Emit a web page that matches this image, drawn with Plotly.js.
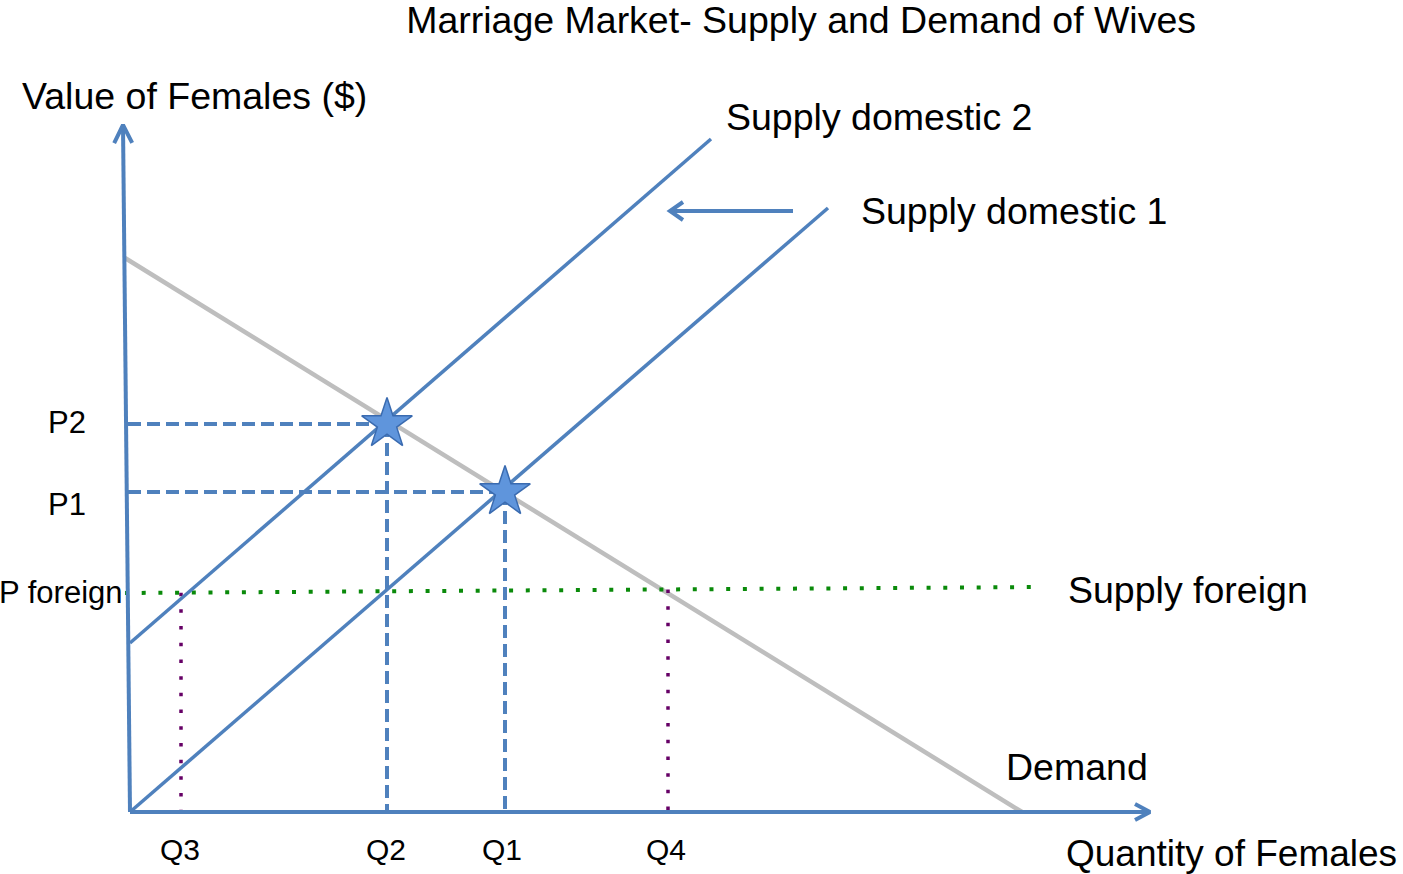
<!DOCTYPE html>
<html>
<head>
<meta charset="utf-8">
<script src="https://cdn.plot.ly/plotly-3.0.1.min.js"></script>
<style>html,body{margin:0;padding:0;background:#fff;}#chart{width:1403px;height:874px;}</style>
</head>
<body>
<div id="chart"></div>
<script>
// ---- data (quantity / value units, origin at the axes' corner) ----
const titleText = 'Marriage Market- Supply and Demand of Wives';
const yAxisTitle = 'Value of Females ($)';
const xAxisTitle = 'Quantity of Females';

const demandQ = [-5, 892];
const demandV = [554, 0];
const supply1Q = [0, 698];
const supply1V = [0, 604];
const supply2Q = [0, 581];
const supply2V = [169, 673];
const foreignQ = [-5, 913];
const foreignV = [219, 225];

const equilibriumQ = [257, 375];   // Q2, Q1
const equilibriumV = [388, 320];   // P2, P1

const foreignQtyQ = [51, 538];     // Q3, Q4

const qLabels = ['Q3', 'Q2', 'Q1', 'Q4'];
const qLabelPos = [50, 256, 372, 536];
const pLabels = ['P2', 'P1', 'P foreign'];
const pLabelPos = [390, 308, 220];

const yAxisEnd = [-7, 687];
const xAxisEnd = [1020, 0];
const shiftArrowQ = [663, 540];
const shiftArrowV = [601, 601];

const seriesLabels = ['Supply domestic 2', 'Supply domestic 1', 'Supply foreign', 'Demand'];
const seriesLabelQ = [594, 729, 936, 874];
const seriesLabelV = [695, 601, 222, 45];

// ---- styles ----
const BLUE = '#4F81BD';
const GRAY = '#BEBEBE';
const GREEN = '#0A8A0A';
const PURPLE = '#660066';
const FONT = 'Liberation Sans, Arial, sans-serif';

function chevron(tip, dir, len, half) {
  const n = Math.hypot(dir[0], dir[1]);
  const dx = dir[0] / n, dy = dir[1] / n;
  const px = -dy, py = dx;
  return {
    x: [tip[0] - dx * len + px * half, tip[0], tip[0] - dx * len - px * half],
    y: [tip[1] - dy * len + py * half, tip[1], tip[1] - dy * len - py * half]
  };
}
function line(x, y, color, width, dash) {
  return {type: 'scatter', mode: 'lines', x: x, y: y, hoverinfo: 'skip',
    line: {color: color, width: width, dash: dash || 'solid'}, showlegend: false};
}

const traces = [];
// demand
traces.push(line(demandQ, demandV, GRAY, 4.5));
// foreign supply (dotted)
traces.push(line(foreignQ, foreignV, GREEN, 4, '4px,12.7px'));
// purple dotted at Q3, Q4
foreignQtyQ.forEach((q, i) => {
  const v = foreignV[0] + (foreignV[1] - foreignV[0]) * (q - foreignQ[0]) / (foreignQ[1] - foreignQ[0]);
  traces.push(line([q, q], [v, 0], PURPLE, 3.5, '3.5px,13.2px'));
});
// dashed guides
equilibriumQ.forEach((q, i) => {
  const v = equilibriumV[i];
  traces.push(line([-2, q], [v, v], BLUE, 4, '13px,6px'));
  traces.push(line([q, q], [v, 0], BLUE, 4, '13px,6px'));
});
// supply curves
traces.push(line(supply1Q, supply1V, BLUE, 3.5));
traces.push(line(supply2Q, supply2V, BLUE, 3.5));
// axes
traces.push(line([0, yAxisEnd[0]], [0, yAxisEnd[1]], BLUE, 4));
traces.push(line([0, xAxisEnd[0]], [0, xAxisEnd[1]], BLUE, 4));
const cy = chevron(yAxisEnd, [yAxisEnd[0], yAxisEnd[1]], 18, 9);
traces.push(line(cy.x, cy.y, BLUE, 4));
const cx = chevron(xAxisEnd, [1, 0], 15, 8);
traces.push(line(cx.x, cx.y, BLUE, 4));
// shift arrow
traces.push(line(shiftArrowQ, shiftArrowV, BLUE, 4));
const cs = chevron([shiftArrowQ[1], shiftArrowV[1]], [shiftArrowQ[1] - shiftArrowQ[0], 0], 13, 9);
traces.push(line(cs.x, cs.y, BLUE, 4));
// equilibrium stars
traces.push({type: 'scatter', mode: 'markers', x: equilibriumQ, y: equilibriumV, hoverinfo: 'skip',
  showlegend: false,
  marker: {symbol: 'star', size: 38, color: '#5F95DC', line: {color: '#3A6BB0', width: 1.5}}});

const annotations = [];
function label(text, x, y, size, xanchor, xshift) {
  annotations.push({text: text, x: x, y: y, xref: 'x', yref: 'y', showarrow: false,
    xanchor: xanchor || 'left', yanchor: 'middle', xshift: xshift || 0,
    font: {family: FONT, size: size, color: '#000'}});
}
label(yAxisTitle, -110, 716, 37.5);
label(xAxisTitle, 934, -41, 37);
seriesLabels.forEach((t, i) => label(t, seriesLabelQ[i], seriesLabelV[i], 37.5));
qLabels.forEach((t, i) => label(t, qLabelPos[i], -37, 30, 'center'));
pLabels.forEach((t, i) => {
  if (t === 'P foreign') label(t, -130, pLabelPos[i], 31, 'left', -3);
  else label(t, -84, pLabelPos[i], 31);
});

const layout = {
  width: 1403, height: 874,
  margin: {l: 0, r: 0, t: 0, b: 0},
  paper_bgcolor: '#fff', plot_bgcolor: '#fff',
  title: {text: titleText, x: 0.571, xanchor: 'center', y: 0.977, yanchor: 'middle', yref: 'container',
    font: {family: FONT, size: 37.5, color: '#000'}},
  xaxis: {range: [-130, 1273], visible: false, fixedrange: true},
  yaxis: {range: [-62, 812], visible: false, fixedrange: true},
  annotations: annotations,
  showlegend: false
};
Plotly.newPlot('chart', traces, layout, {staticPlot: true, displayModeBar: false});
</script>
</body>
</html>
